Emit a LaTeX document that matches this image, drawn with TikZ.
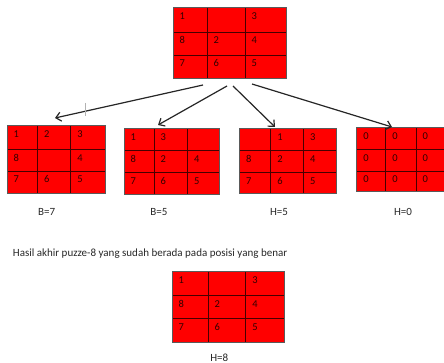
\documentclass[tikz,border=0pt]{standalone}
\usepackage{fontspec}
\setmainfont{Carlito}
\usetikzlibrary{arrows.meta}
\definecolor{cellred}{RGB}{255,0,0}
\definecolor{outline}{RGB}{90,90,90}
\definecolor{innerline}{RGB}{70,0,0}
\definecolor{txt}{RGB}{40,40,40}
\definecolor{numc}{RGB}{50,0,0}
\tikzset{
  gridbox/.style={fill=cellred, draw=none, inner sep=0pt, outer sep=0pt, anchor=north west},
  gridline/.style={draw=innerline, line width=0.9pt},
  gridborder/.style={draw=outline, line width=1pt},
  num/.style={font=\fontsize{10.5}{10.5}\selectfont, text=numc, inner sep=0pt, anchor=base west},
  lbl/.style={font=\fontsize{11}{11}\selectfont, text=txt, inner sep=0pt},
  arr/.style={draw=black!85, line width=1.2pt, -{Straight Barb[length=5pt,width=9pt]}},
  tick/.style={draw=gray!60, line width=0.5pt},
}
\newcommand\pgrid[9]{%
  \node[gridbox, minimum width={(#4-#2)*1pt}, minimum height={(#5-#3)*1pt}] (#1) at (#2,#3) {};
  \draw[gridline] (#6,#3) -- (#6,#5) (#7,#3) -- (#7,#5) (#2,#8) -- (#4,#8) (#2,#9) -- (#4,#9);
  \draw[gridborder] (#1.north west) rectangle (#1.south east);
  \gdef\gname{#1}\gdef\cxa{#2}\gdef\cxb{#6}\gdef\cxc{#7}\gdef\cya{#3}\gdef\cyb{#8}\gdef\cyc{#9}}
\def\nx{6.5}\def\ny{12}
\newcommand\pnums[9]{%
  \node[num] (\gname-1) at (\cxa+\nx,\cya+\ny) {#1};
  \node[num] (\gname-2) at (\cxb+\nx,\cya+\ny) {#2};
  \node[num] (\gname-3) at (\cxc+\nx,\cya+\ny) {#3};
  \node[num] (\gname-4) at (\cxa+\nx,\cyb+\ny) {#4};
  \node[num] (\gname-5) at (\cxb+\nx,\cyb+\ny) {#5};
  \node[num] (\gname-6) at (\cxc+\nx,\cyb+\ny) {#6};
  \node[num] (\gname-7) at (\cxa+\nx,\cyc+\ny) {#7};
  \node[num] (\gname-8) at (\cxb+\nx,\cyc+\ny) {#8};
  \node[num] (\gname-9) at (\cxc+\nx,\cyc+\ny) {#9};}
\begin{document}
\begin{tikzpicture}[x=1pt,y=-1pt]
  \useasboundingbox (0,0) rectangle (444,363);
  \clip (0,0) rectangle (444,363);
  \fill[white] (0,0) rectangle (444,363);
  % top
  \pgrid{top}{173}{8}{286}{79}{207}{245}{32}{55}
  \pnums{1}{}{3}{8}{2}{4}{7}{6}{5}
  % children
  \pgrid{ga}{7}{126}{105}{194}{37.3}{70.7}{149.3}{171}
  \pnums{1}{2}{3}{8}{}{4}{7}{6}{5}
  \pgrid{gb}{124}{128.3}{219.3}{195}{154}{187.3}{150.7}{172.7}
  \pnums{1}{3}{}{8}{2}{4}{7}{6}{5}
  \pgrid{gc}{239.3}{128.3}{336.7}{194}{270.7}{303.3}{150.7}{172.7}
  \pnums{}{1}{3}{8}{2}{4}{7}{6}{5}
  \pgrid{gd}{356.7}{127.3}{447}{191.7}{385.7}{416}{149.3}{171}
  \pnums{0}{0}{0}{0}{0}{0}{0}{0}{0}
  % goal
  \pgrid{goal}{172}{271.7}{284}{342.3}{208}{245.7}{295}{318.3}
  \pnums{1}{}{3}{8}{2}{4}{7}{6}{5}
  % labels
  \node[lbl] (la) at (46.7,211.7) {B=7};
  \node[lbl] (lb) at (159,212) {B=5};
  \node[lbl] (lc) at (279,212) {H=5};
  \node[lbl] (ld) at (403,212) {H=0};
  \node[lbl] (lgoal) at (219.3,357.5) {H=8};
  \node[lbl, anchor=west] (cap) at (12.7,253.3) {Hasil akhir puzze-8 yang sudah berada pada posisi yang benar};
  % arrows
  \coordinate (s1) at (203,85);   \coordinate (e1) at (55,118);
  \coordinate (s2) at (227,86);   \coordinate (e2) at (158,125);
  \coordinate (s3) at (233,86);   \coordinate (e3) at (275,127);
  \coordinate (s4) at (252,84);   \coordinate (e4) at (392,127);
  \draw[arr] (s1) -- (e1);
  \draw[arr] (s2) -- (e2);
  \draw[arr] (s3) -- (e3);
  \draw[arr] (s4) -- (e4);
  \coordinate (t1) at (85,103);   \coordinate (t2) at (85,116);
  \draw[tick] (t1) -- (t2);
\end{tikzpicture}
\end{document}
